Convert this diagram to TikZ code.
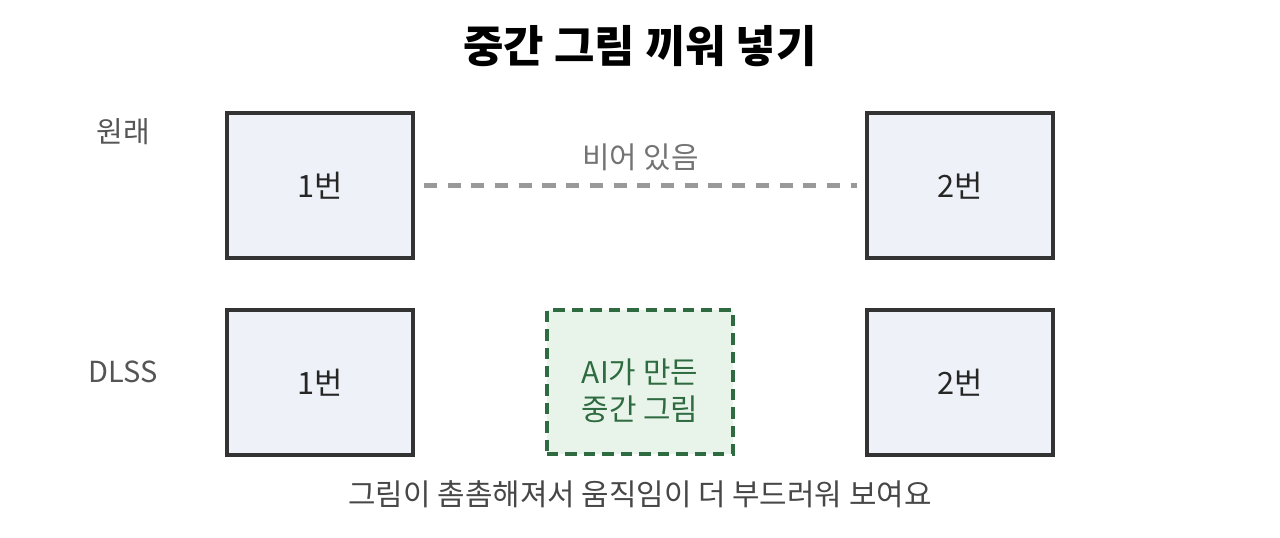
\documentclass[tikz,border=0pt]{standalone}
\usepackage{fontspec}
\setmainfont{Noto Sans CJK KR}
\usepackage{xcolor}
\usetikzlibrary{positioning}
\definecolor{framedark}{HTML}{333333}
\definecolor{framefill}{HTML}{EEF2F8}
\definecolor{aigreen}{HTML}{2E6B40}
\definecolor{aifill}{HTML}{E8F4E9}
\definecolor{gapgray}{HTML}{999999}
\definecolor{labelgray}{HTML}{555555}
\begin{document}
\begin{tikzpicture}[x=0.02cm,y=-0.02cm,
  framebox/.style={draw=framedark,fill=framefill,line width=2.3pt,
    minimum width=3.72cm,minimum height=2.9cm,inner sep=0pt,
    font=\fontsize{17.5}{20}\selectfont,text=black!85},
  aibox/.style={draw=aigreen,fill=aifill,line width=2pt,
    dash pattern=on 6.5pt off 4pt,minimum width=3.72cm,minimum height=2.88cm,
    inner sep=0pt},
  aitext/.style={align=center,font=\fontsize{17}{21.5}\selectfont,text=aigreen},
  rowlabel/.style={font=\fontsize{16.5}{19}\selectfont,text=labelgray}]
  \useasboundingbox (0,0) rectangle (1280,537);
  % title
  \node[font=\fontsize{25}{30}\selectfont\bfseries] (title) at (640,46) {중간 그림 끼워 넣기};
  % row labels
  \node[rowlabel] (lblorig) at (123,132) {원래};
  \node[rowlabel] (lbldlss) at (123,372) {DLSS};
  % original frames with the empty gap
  \node[framebox] (orig1) at (320,185.5) {1번};
  \node[framebox] (orig2) at (960,185.5) {2번};
  \draw[gapgray,line width=2.4pt,dash pattern=on 7.5pt off 6pt]
    ([xshift=5pt]orig1.east) -- ([xshift=-4.5pt]orig2.west)
    node[midway,above=4pt,text=black!55,font=\fontsize{17}{20}\selectfont] (gaptxt) {비어 있음};
  % DLSS frames with the generated frame between
  \node[framebox] (dlss1) at (320,382.5) {1번};
  \node[aibox] (aiframe) at (640,382) {};
  \node[aitext] (aitxt) at ([yshift=-5pt]aiframe.center) {AI가 만든\\중간 그림};
  \node[framebox] (dlss2) at (960,382.5) {2번};
  % caption
  \node[font=\fontsize{17}{20}\selectfont,text=black!72] (caption) at (640,494)
    {그림이 촘촘해져서 움직임이 더 부드러워 보여요};
\end{tikzpicture}
\end{document}
